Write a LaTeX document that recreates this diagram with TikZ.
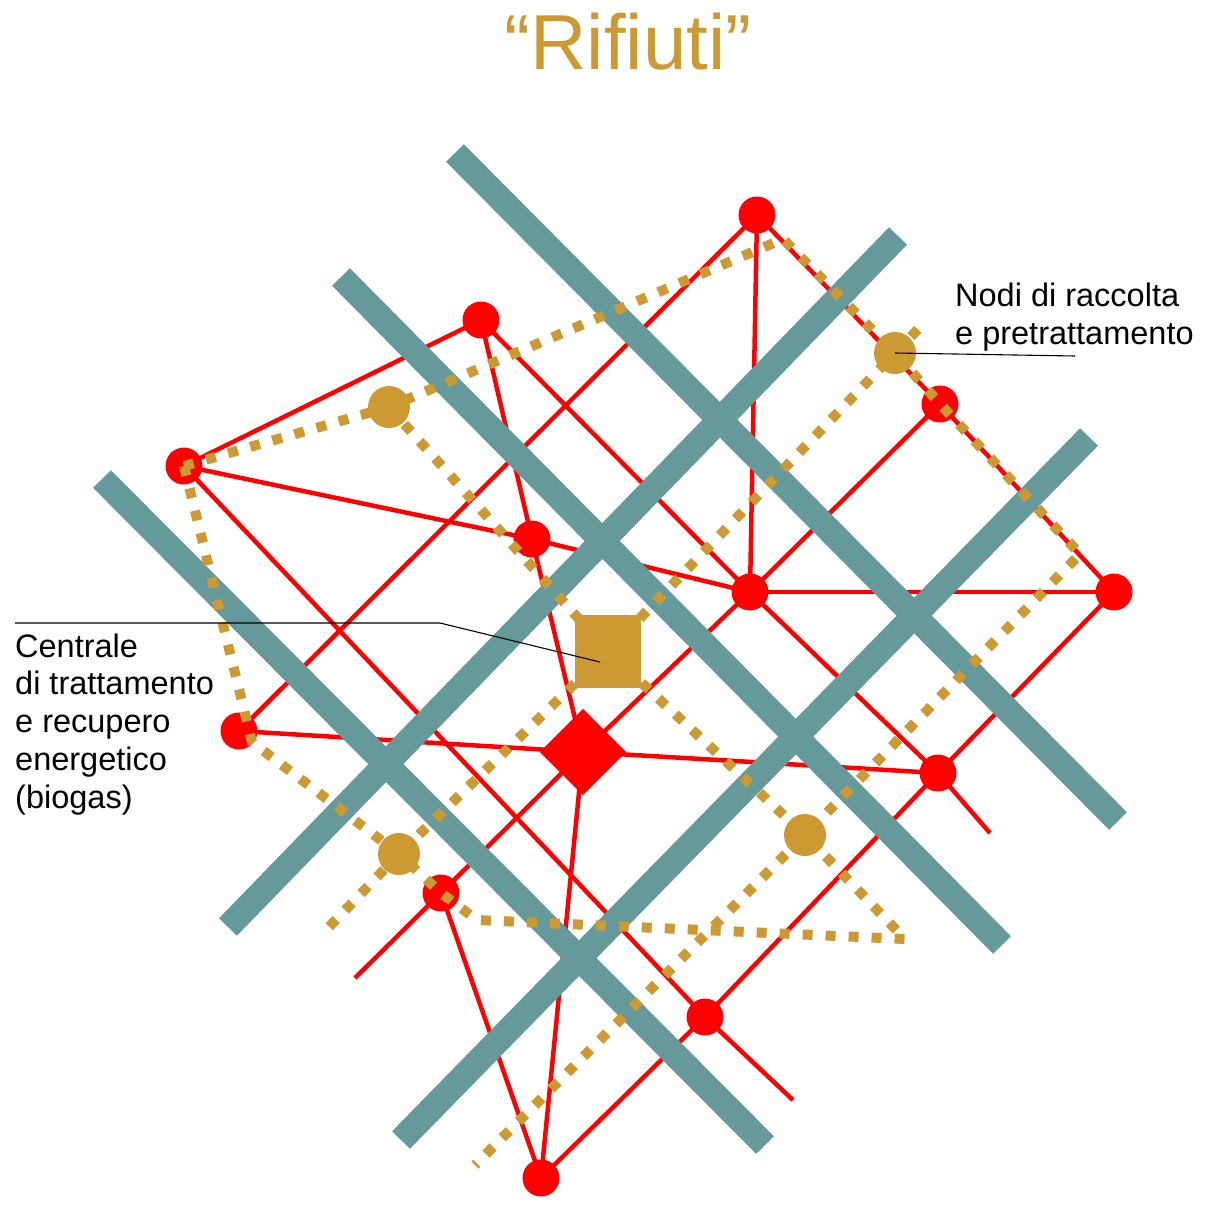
\documentclass[tikz,border=0pt]{standalone}
\usepackage{fontspec}
\setmainfont{Liberation Sans}
\definecolor{gold}{RGB}{204,153,51}
\definecolor{tealbar}{RGB}{102,153,153}
\definecolor{rednet}{RGB}{255,0,0}
\begin{document}
\begin{tikzpicture}[x=1pt,y=-1pt,
  redline/.style={draw=rednet,line width=4.5pt},
  bar/.style={draw=tealbar,line width=25pt},
  golddots/.style={draw=gold,line width=10pt,dash pattern=on 10pt off 13pt},
  rnode/.style={circle,fill=rednet,inner sep=0pt,minimum size=37pt},
  gnode/.style={circle,fill=gold,inner sep=0pt,minimum size=42pt},
  leader/.style={draw=black,line width=1.1pt},
  lbl/.style={font=\fontsize{32.5}{37.7}\selectfont,align=left,inner sep=0pt,anchor=base west}]
\useasboundingbox (0,0) rectangle (1212,1208);
% positions
\coordinate (r1) at (757,215);
\coordinate (r2) at (481,320);
\coordinate (r3) at (184,466);
\coordinate (r4) at (532,539);
\coordinate (r5) at (750,592);
\coordinate (r6) at (940,404);
\coordinate (r7) at (1114,592);
\coordinate (r8) at (239,731);
\coordinate (r9) at (938,773);
\coordinate (r10) at (441,893);
\coordinate (r11) at (705,1017);
\coordinate (r12) at (541,1178);
\coordinate (dm) at (583,752);
\coordinate (e3) at (990,833);
\coordinate (e4) at (793,1100);
\coordinate (e5) at (355,978);
\coordinate (g1) at (389,407);
\coordinate (g2) at (895,353);
\coordinate (g3) at (399,854);
\coordinate (g4) at (805,835);
\coordinate (sq) at (608,651.5);
\coordinate (t1) at (783,239);
\coordinate (c1) at (1080,554);
\coordinate (e1) at (475,1165);
\coordinate (c3) at (252,742);
\coordinate (c4) at (477,920);
\coordinate (c2) at (905,939);
\coordinate (e2) at (328,928);
\coordinate (x2) at (925,322);
% bar ends
\coordinate (b1a) at (455,153);  \coordinate (b1b) at (1118,821);
\coordinate (b2a) at (341,277);  \coordinate (b2b) at (1002,945);
\coordinate (b3a) at (102,479);  \coordinate (b3b) at (765,1145);
\coordinate (b4a) at (898,236);  \coordinate (b4b) at (228,927);
\coordinate (b5a) at (1089,437); \coordinate (b5b) at (401,1140);
% red network lines
\draw[redline] (r1) -- (r8);
\draw[redline] (r1) -- (r5);
\draw[redline] (r1) -- (r6) -- (r7);
\draw[redline] (r2) -- (r3);
\draw[redline] (r2) -- (r4) -- (dm) -- (r12);
\draw[redline] (r2) -- (r5) -- (r9) -- (e3);
\draw[redline] (r3) -- (r4) -- (r5);
\draw[redline] (r3) -- (r11) -- (e4);
\draw[redline] (r8) -- (dm) -- (r9);
\draw[redline] (r6) -- (r5) -- (dm) -- (r10) -- (e5);
\draw[redline] (r7) -- (r9) -- (r11) -- (r12);
\draw[redline] (r5) -- (r7);
\draw[redline] (r10) -- (r12);
% teal bars
\draw[bar] (b1a) -- (b1b);
\draw[bar] (b2a) -- (b2b);
\draw[bar] (b3a) -- (b3b);
\draw[bar] (b4a) -- (b4b);
\draw[bar] (b5a) -- (b5b);
% red nodes
\foreach \n in {1,...,12} {\node[rnode] (R\n) at (r\n) {};}
\node[rectangle,fill=rednet,inner sep=0pt,minimum width=61pt,minimum height=61pt,rotate=45] (D) at (dm) {};
% gold dotted lines
\draw[golddots] (r3) -- (g1) -- (t1) -- (g2) -- (r6) -- (c1) -- (g4) -- (e1);
\draw[golddots] (g1) -- (sq);
\draw[golddots] (sq) -- (g2) -- (x2);
\draw[golddots] (sq) -- (g4) -- (c2) -- (c4) -- (r10) -- (g3) -- (e2);
\draw[golddots] (sq) -- (g3);
\draw[golddots] (r3) -- (c3) -- (g3);
% gold nodes
\foreach \n in {1,...,4} {\node[gnode] (G\n) at (g\n) {};}
\node[rectangle,fill=gold,inner sep=0pt,minimum width=66pt,minimum height=73pt] (SQ) at (sq) {};
% leaders
\coordinate (l1) at (1075,356);
\draw[leader] (G2.center) -- (l1);
\coordinate (l2) at (15,623);
\coordinate (l3) at (440,623);
\coordinate (l4) at (600,662);
\draw[leader] (l2) -- (l3) -- (l4);
% texts
\node[font=\fontsize{78}{84}\selectfont,text=gold,anchor=base,inner sep=0pt] (title) at (628,69) {“Rifiuti”};
\node[lbl] (nodi) at (955,344) {Nodi di raccolta\\e pretrattamento};
\node[lbl] (centrale) at (15,808) {Centrale\\di trattamento\\e recupero\\energetico\\(biogas)};
\end{tikzpicture}
\end{document}
